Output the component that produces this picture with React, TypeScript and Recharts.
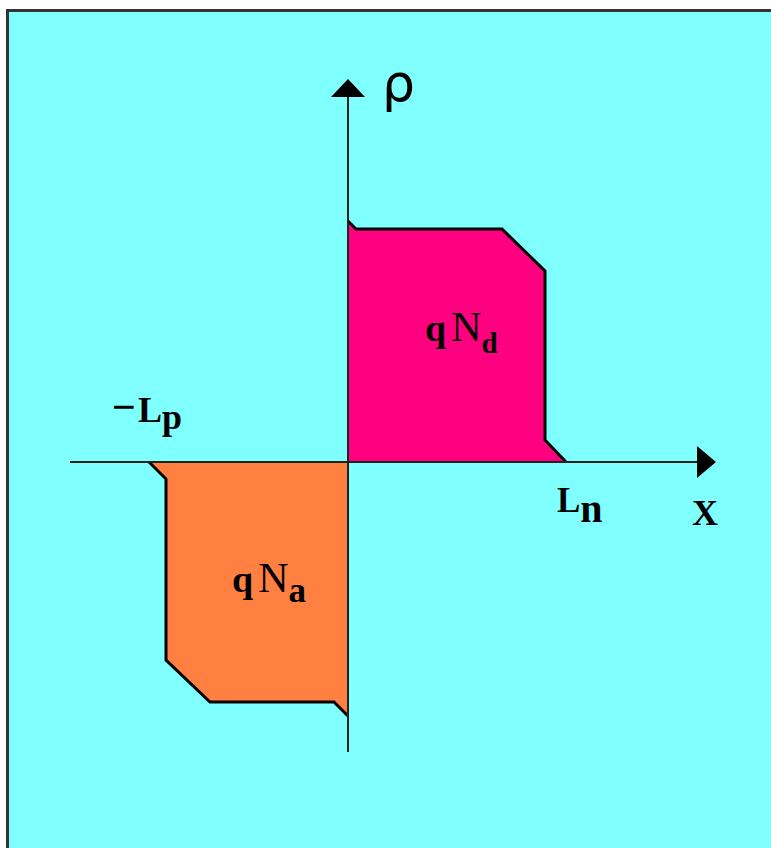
import { ComposedChart, Area, XAxis, YAxis, ReferenceLine, ReferenceDot } from "recharts";

// charge density profile of an abrupt p-n junction (arbitrary units, origin at the junction)
const donorX = [0, 8, 154, 197, 197, 218];
const donorRho = [241, 233, 233, 191, 22, 0];
const acceptorX = [-199, -182, -182, -138, -14, 0];
const acceptorRho = [0, -17, -198, -240, -240, -254];

const xAxisEnd = [-278, 349];
const yAxisEnd = [-290, 365];
const xArrowTip = 368;
const yArrowTip = 383;

const donorData = donorX.map((x, i) => ({ x, rho: donorRho[i] }));
const acceptorData = acceptorX.map((x, i) => ({ x, rho: acceptorRho[i] }));

const SERIF = "'Liberation Serif', 'Times New Roman', serif";

const RightArrow = (p: any) => (
  <polygon points={`${p.cx},${p.cy} ${p.cx - 19},${p.cy - 16} ${p.cx - 19},${p.cy + 16}`} fill="#000" />
);
const UpArrow = (p: any) => (
  <polygon points={`${p.cx},${p.cy} ${p.cx - 17},${p.cy + 18} ${p.cx + 17},${p.cy + 18}`} fill="#000" />
);

const App = () => {
  return (
    <div style={{ position: "absolute", left: 0, top: 0, width: 771, height: 848, overflow: "hidden", background: "#fff" }}>
      <div style={{ position: "absolute", left: 6, top: 9, width: 820, height: 900, background: "#80FFFF", border: "3px solid #333", boxSizing: "border-box" }} />
      <div style={{ position: "absolute", left: 0, top: 0 }}>
        <ComposedChart width={771} height={848} margin={{ top: 0, right: 0, bottom: 0, left: 0 }}>
          <XAxis hide type="number" dataKey="x" domain={[-348, 423]} allowDataOverflow />
          <YAxis hide type="number" domain={[-386, 462]} allowDataOverflow />
          <Area data={donorData} dataKey="rho" type="linear" baseValue={0} fill="#FF0080" fillOpacity={1} stroke="#000" strokeWidth={3} isAnimationActive={false} dot={false} activeDot={false} />
          <Area data={acceptorData} dataKey="rho" type="linear" baseValue={0} fill="#FF8040" fillOpacity={1} stroke="#000" strokeWidth={3} isAnimationActive={false} dot={false} activeDot={false} />
          <ReferenceLine segment={[{ x: xAxisEnd[0], y: 0 }, { x: xAxisEnd[1], y: 0 }]} stroke="#222" strokeWidth={2} />
          <ReferenceLine segment={[{ x: 0, y: yAxisEnd[0] }, { x: 0, y: yAxisEnd[1] }]} stroke="#222" strokeWidth={2} />
          <ReferenceDot x={xArrowTip} y={0} r={0} shape={RightArrow} />
          <ReferenceDot x={0} y={yArrowTip} r={0} shape={UpArrow} />
          <ReferenceDot x={34} y={361} r={0} shape={(p: any) => (
            <text x={p.cx} y={p.cy} fontFamily="'DejaVu Sans', sans-serif" fontSize={52} fill="#000">ρ</text>
          )} />
          <ReferenceDot x={-236} y={40} r={0} shape={(p: any) => (
            <text x={p.cx} y={p.cy} fontFamily={SERIF} fontWeight="bold" fontSize={36} fill="#000">
              <tspan fontSize={42} dy={-1}>−</tspan><tspan dx={2} dy={1}>L</tspan><tspan fontSize={36} dy={7}>p</tspan>
            </text>
          )} />
          <ReferenceDot x={209} y={-50} r={0} shape={(p: any) => (
            <text x={p.cx} y={p.cy} fontFamily={SERIF} fontWeight="bold" fontSize={35} fill="#000">
              L<tspan fontSize={40} dy={10}>n</tspan>
            </text>
          )} />
          <ReferenceDot x={344} y={-63} r={0} shape={(p: any) => (
            <text x={p.cx} y={p.cy} fontFamily={SERIF} fontWeight="bold" fontSize={36} fill="#000">X</text>
          )} />
          <ReferenceDot x={77} y={121} r={0} shape={(p: any) => (
            <text x={p.cx} y={p.cy} fontFamily={SERIF} fontSize={42} fill="#000">
              <tspan fontWeight="bold" fontSize={38}>q</tspan><tspan dx={5}>N</tspan><tspan fontWeight="bold" fontSize={29} dy={12}>d</tspan>
            </text>
          )} />
          <ReferenceDot x={-116} y={-130} r={0} shape={(p: any) => (
            <text x={p.cx} y={p.cy} fontFamily={SERIF} fontSize={42} fill="#000">
              <tspan fontWeight="bold" fontSize={38}>q</tspan><tspan dx={5}>N</tspan><tspan fontWeight="bold" fontSize={35} dy={10}>a</tspan>
            </text>
          )} />
        </ComposedChart>
      </div>
    </div>
  );
};

export default App;
